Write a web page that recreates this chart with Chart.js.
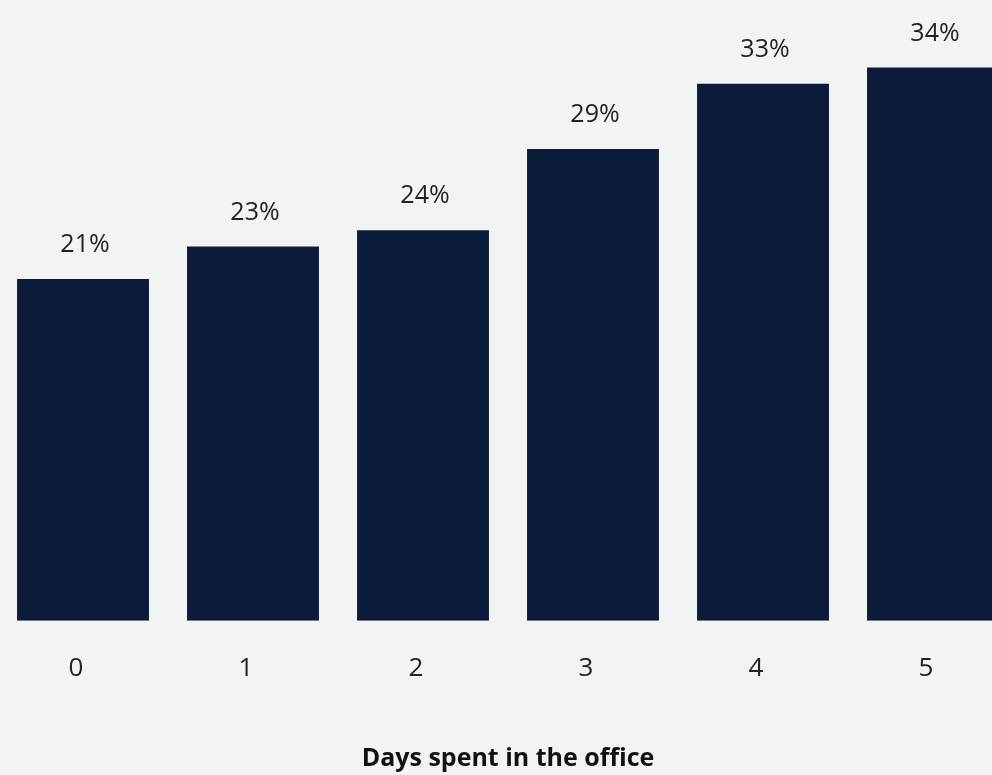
<!DOCTYPE html>
<html>
<head>
<meta charset="utf-8">
<script src="https://cdn.jsdelivr.net/npm/chart.js@4"></script>
<style>
  html, body { margin: 0; padding: 0; background: #f2f4f3; overflow: hidden; }
  #wrap { position: absolute; left: -2px; top: 0; width: 1020px; height: 775px; }
</style>
</head>
<body>
<div id="wrap"><canvas id="officeChart"></canvas></div>
<script>
// Share of respondents by days spent in the office
const days = ['0', '1', '2', '3', '4', '5'];
const shares = [21, 23, 24, 29, 33, 34];
const axisTitle = 'Days spent in the office';

const fontFamily = '"Open Sans", Lato, sans-serif';
const textColor = '#222222';
const barColor = '#0c1b3a';

// Draws the percentage above each bar
const valueLabels = {
  id: 'valueLabels',
  afterDatasetsDraw(chart) {
    const ctx = chart.ctx;
    const meta = chart.getDatasetMeta(0);
    ctx.save();
    ctx.font = '25px ' + fontFamily;
    ctx.fillStyle = textColor;
    ctx.textAlign = 'center';
    ctx.textBaseline = 'middle';
    meta.data.forEach((bar, i) => {
      ctx.fillText(shares[i] + '%', bar.x + 2, bar.y - 34);
    });
    ctx.restore();
  }
};

new Chart(document.getElementById('officeChart'), {
  type: 'bar',
  data: {
    labels: days,
    datasets: [{
      data: shares,
      backgroundColor: barColor,
      borderWidth: 0,
      categoryPercentage: 1,
      barPercentage: 0.776
    }]
  },
  options: {
    responsive: true,
    maintainAspectRatio: false,
    animation: false,
    layout: { padding: { top: 0, bottom: 1, left: 0, right: 0 } },
    plugins: {
      legend: { display: false },
      tooltip: { enabled: false }
    },
    scales: {
      x: {
        grid: { display: false, drawTicks: false },
        border: { display: false },
        ticks: {
          color: textColor,
          font: { family: fontFamily, size: 26 },
          padding: 32,
          labelOffset: -7
        },
        title: {
          display: true,
          text: axisTitle,
          color: '#111111',
          font: { family: fontFamily, size: 25, weight: 'bold' },
          padding: { top: 28, bottom: 0 }
        }
      },
      y: {
        display: false,
        min: 0,
        max: 38.15
      }
    }
  },
  plugins: [valueLabels]
});
</script>
</body>
</html>
